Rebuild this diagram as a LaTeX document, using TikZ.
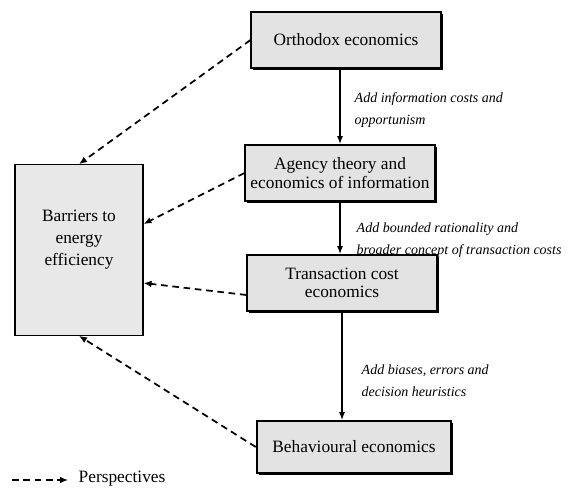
\documentclass[tikz,border=0pt]{standalone}
\usepackage{fontspec}
\setmainfont{Liberation Serif}
\usetikzlibrary{arrows.meta,shadows}

\begin{document}
\begin{tikzpicture}[x=0.75pt,y=-0.75pt,
  econbox/.style={draw,line width=1.3pt,fill=gray!22,minimum width=142pt,minimum height=42pt,
    align=center,font=\fontsize{13}{14}\selectfont,inner sep=2pt,
    drop shadow={shadow xshift=1.6pt,shadow yshift=-1.6pt,fill=black,opacity=1}},
  steplabel/.style={anchor=west,align=left,font=\itshape\fontsize{10.5}{16.5}\selectfont},
  persp/.style={dashed,dash pattern=on 5pt off 3.5pt,line width=1.3pt,-{Latex[length=6pt,width=5pt]}},
  addarrow/.style={line width=1pt,-{Latex[length=6pt,width=4.5pt]}}]
\useasboundingbox (0,0) rectangle (576,487);

\node[econbox] (orth) at (346,40) {Orthodox economics};
\node[econbox] (agency) at (340,173) {Agency theory and\\economics of information};
\node[econbox] (trans) at (342,283) {Transaction cost\\economics};
\node[econbox,minimum width=146pt,minimum height=39pt] (behav) at (354,447) {Behavioural economics};

\node[draw,line width=0.8pt,fill=gray!18,minimum width=96pt,minimum height=128pt,
  font=\fontsize{13}{16.5}\selectfont,align=center] (barr) at (79,250) {Barriers to\\energy\\efficiency\\[2pt]};

\draw[addarrow] (orth.south -| agency) -- (agency.north);
\draw[addarrow] (agency.south) -- (agency.south |- trans.north);
\draw[addarrow] (trans.south) -- (trans.south |- behav.north);

\node[steplabel] (add1) at (350,110) {Add information costs and\\opportunism};
\node[steplabel] (add2) at (352,240) {Add bounded rationality and\\broader concept of transaction costs};
\node[steplabel] (add3) at (357,381) {Add biases, errors and\\decision heuristics};

\draw[persp] (orth.west) -- (barr.north);
\draw[persp] (agency.west) -- (barr.east |- 0,224);
\draw[persp] (trans.west) ++(0,12) -- (barr.east |- 0,283);
\draw[persp] (behav.west) -- (barr.south);

\coordinate (legA) at (12,480);
\coordinate (legB) at (68,480);
\draw[persp,line width=1pt] (legA) -- (legB);
\node[anchor=west,font=\fontsize{13}{14}\selectfont] (legtext) at (74,479) {Perspectives};
\end{tikzpicture}
\end{document}
